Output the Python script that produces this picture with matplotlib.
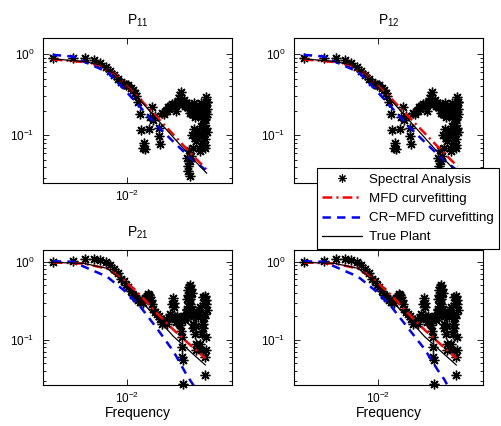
import numpy as np
import matplotlib
matplotlib.use("Agg")
import matplotlib.pyplot as plt
from matplotlib.lines import Line2D
from matplotlib.ticker import LogLocator, NullLocator, NullFormatter

plt.rcParams['font.family'] = ['Liberation Sans', 'DejaVu Sans']
plt.rcParams['mathtext.default'] = 'regular'
plt.rcParams['lines.scale_dashes'] = False

# ------------------------------------------------------------
# DATA
# ------------------------------------------------------------
DF = 0.0008  # frequency step of the spectral estimate

# spectral analysis points, top row (P11, P12): bin index, magnitude
top_bins = [1, 2, 3, 4, 5, 6, 7, 8, 9, 10, 11, 12, 13, 14, 15, 16,
            17, 18, 19, 20, 21, 22, 23, 26, 27, 29, 30, 32, 36, 37, 38,
            40, 44, 46, 48, 50, 52, 54, 57, 60, 63, 65, 67, 70, 72, 75, 76,
            78, 80, 84, 85, 89, 92, 93, 97, 100, 103, 107, 110, 112, 115,
            118, 120, 125, 128, 133, 135, 140, 145, 148, 152, 155, 161, 165,
            168, 172, 175, 178, 180, 183, 185, 187,
            182, 178, 165, 158, 145, 130, 133, 125, 117, 107, 105, 97, 105,
            93, 97, 112, 120, 100, 150, 160, 170, 175, 185, 172, 150, 140,
            135, 186, 176]
top_mag = [0.907, 0.907, 0.89, 0.85, 0.77, 0.70, 0.62, 0.55, 0.50, 0.455,
           0.43, 0.42, 0.41, 0.38, 0.36, 0.33,
           0.30, 0.256, 0.183, 0.115, 0.07, 0.081, 0.067, 0.119, 0.169, 0.22,
           0.154, 0.174, 0.124, 0.098, 0.077,
           0.19, 0.183, 0.20, 0.201, 0.22, 0.21, 0.232, 0.24, 0.244, 0.23,
           0.20, 0.24, 0.26, 0.29, 0.31, 0.34,
           0.268, 0.25, 0.24, 0.27, 0.232, 0.25, 0.22, 0.221, 0.24, 0.19,
           0.232, 0.183, 0.22, 0.20,
           0.25, 0.18, 0.166, 0.20, 0.19, 0.17, 0.21, 0.22, 0.183, 0.25,
           0.20, 0.158, 0.19,
           0.23, 0.16, 0.201, 0.26, 0.295, 0.256, 0.26, 0.21,
           0.166, 0.124, 0.103, 0.081, 0.064, 0.085, 0.113, 0.093, 0.07,
           0.055, 0.0477, 0.0413, 0.031,
           0.0525, 0.036, 0.10, 0.12, 0.065, 0.13, 0.12, 0.14, 0.09, 0.11,
           0.075, 0.10, 0.07,
           0.10, 0.18, 0.07]

# spectral analysis points, bottom row (P21, P22)
bot_bins = [1, 2, 3, 4, 5, 6, 7, 8, 9, 10, 11, 12, 13, 14, 15, 16, 17, 18,
            19, 20, 21, 22, 23, 24, 25, 26, 27, 28, 29, 30, 32, 34, 36, 38,
            40, 43, 45, 48, 51, 54, 57, 59, 60, 61, 63, 65, 66, 68, 70, 73,
            75, 77, 79, 79, 80, 80, 83, 83, 85, 86, 89, 90, 93, 95, 97, 100,
            105, 107, 104, 103, 108, 112, 117, 120, 125, 128, 130, 127, 125,
            133, 139, 143, 148, 165, 170, 175, 180, 183, 178, 175, 165, 158,
            148, 152, 160, 170, 177, 180, 172, 175, 98, 102, 110, 96, 106,
            99, 115]
bot_mag = [1.0, 1.02, 1.09, 1.09, 1.05, 0.99, 0.91, 0.81, 0.71, 0.61, 0.56,
           0.51, 0.47, 0.42, 0.38, 0.36, 0.34, 0.32,
           0.31, 0.305, 0.30, 0.32, 0.34, 0.37, 0.39, 0.38, 0.354, 0.32,
           0.29, 0.25, 0.23, 0.217, 0.20, 0.187,
           0.16, 0.178, 0.17, 0.16, 0.19, 0.217, 0.29, 0.34, 0.263, 0.30,
           0.196, 0.17, 0.19, 0.20, 0.178, 0.165,
           0.153, 0.13, 0.109, 0.081, 0.06, 0.19, 0.0546, 0.0268, 0.20, 0.19,
           0.178, 0.21, 0.239, 0.33, 0.43, 0.48,
           0.50, 0.45, 0.354, 0.29, 0.217, 0.25, 0.16, 0.20, 0.12, 0.089,
           0.073, 0.15, 0.217,
           0.22, 0.196, 0.23, 0.263, 0.354, 0.30, 0.37, 0.29, 0.24, 0.32,
           0.217, 0.16, 0.12,
           0.089, 0.073, 0.14, 0.19, 0.11, 0.075, 0.06, 0.035, 0.38, 0.30,
           0.40, 0.25, 0.33,
           0.20, 0.14]

# fitted / true curves, top row
top_freq = [0.0008, 0.0024, 0.00397, 0.005, 0.00659, 0.0088, 0.0155,
            0.0273, 0.048, 0.0844, 0.147]
top_true = [0.873, 0.808, 0.735, 0.637, 0.578, 0.434, 0.268, 0.158,
            0.0933, 0.0551, 0.034]
top_mfd = [0.86, 0.795, 0.725, 0.63, 0.575, 0.437, 0.276, 0.167, 0.101,
           0.0605, 0.0375]
top_mfd_12 = [0.86, 0.795, 0.725, 0.63, 0.575, 0.44, 0.282, 0.172, 0.106,
              0.065, 0.041]
top_cr_freq = [0.0008, 0.0016, 0.0023, 0.005, 0.0088, 0.0155, 0.0273,
               0.048, 0.0844, 0.14]
top_cr = [0.98, 0.933, 0.808, 0.606, 0.376, 0.222, 0.131, 0.0825, 0.0526,
          0.0375]

# fitted / true curves, bottom row
bot_freq = [0.0008, 0.00229, 0.00503, 0.00883, 0.0155, 0.0273, 0.048,
            0.0844, 0.1403]
bot_true = [0.985, 0.956, 0.826, 0.557, 0.324, 0.189, 0.11, 0.0706, 0.0475]
bot_mfd = [0.985, 0.95, 0.82, 0.585, 0.375, 0.219, 0.134, 0.0858, 0.058]
bot_cr_freq = [0.0008, 0.0016, 0.00229, 0.00503, 0.00883, 0.0155, 0.0273,
               0.048, 0.0747, 0.0935, 0.14]
bot_cr_21 = [1.02, 1.0, 0.87, 0.646, 0.435, 0.267, 0.14, 0.0706, 0.0354,
             0.0263, 0.013]
bot_cr_22 = [1.02, 1.0, 0.87, 0.646, 0.435, 0.267, 0.142, 0.076, 0.041,
             0.031, 0.016]

titles = ['$P_{11}$', '$P_{12}$', '$P_{21}$', '$P_{22}$']

# ------------------------------------------------------------
# FIGURE
# ------------------------------------------------------------
W, H = 501, 426
fig = plt.figure(figsize=(W / 100, H / 100), dpi=100)


def px_axes(left, top, right, bottom):
    return fig.add_axes([left / W, 1 - bottom / H, (right - left) / W,
                         (bottom - top) / H])


star = (8, 2, 0)
red_dd = (0, (7, 3, 1.5, 3))
blue_d = (0, (6, 4.5))

panels = [
    (px_axes(43, 38, 232, 183), top_bins, top_mag, top_freq, top_true,
     top_mfd, top_cr_freq, top_cr, (0.0257, 1.58)),
    (px_axes(294, 38, 483, 183), top_bins, top_mag, top_freq, top_true,
     top_mfd_12, top_cr_freq, top_cr, (0.0257, 1.58)),
    (px_axes(43, 250, 232, 385), bot_bins, bot_mag, bot_freq, bot_true,
     bot_mfd, bot_cr_freq, bot_cr_21, (0.0263, 1.42)),
    (px_axes(294, 250, 483, 385), bot_bins, bot_mag, bot_freq, bot_true,
     bot_mfd, bot_cr_freq, bot_cr_22, (0.0263, 1.42)),
]

for i, (ax, bins, mag, f, true, mfd, crf, cr, ylim) in enumerate(panels):
    ax.loglog(DF * np.array(bins), mag, linestyle='none', marker=star,
              ms=7, mew=1.0, color='black', clip_on=False)
    ax.loglog(f, mfd, color='red', lw=1.8, linestyle=red_dd)
    ax.loglog(crf, cr, color='blue', lw=1.8, linestyle=blue_d)
    ax.loglog(f, true, color='black', lw=0.9)

    ax.set_xlim(5.75e-4, 0.347)
    ax.set_ylim(*ylim)
    ax.set_xticks([0.01])
    ax.xaxis.set_minor_locator(NullLocator())
    ax.yaxis.set_major_locator(LogLocator(base=10))
    ax.yaxis.set_minor_locator(LogLocator(base=10, subs=np.arange(2, 10)))
    ax.yaxis.set_minor_formatter(NullFormatter())
    ax.tick_params(which='both', direction='in', top=True, right=True,
                   labelsize=8.5, width=0.6)
    ax.tick_params(which='major', length=4)
    ax.tick_params(which='minor', length=2.2)
    ax.tick_params(axis='x', pad=4)
    ax.tick_params(axis='y', pad=6)
    for sp in ax.spines.values():
        sp.set_linewidth(0.8)
    ax.set_title(titles[i], fontsize=10, pad=10)
    if i >= 2:
        ax.set_xlabel('Frequency', fontsize=10, labelpad=0)

handles = [
    Line2D([], [], linestyle='none', marker=star, ms=5.8, mew=0.8,
           color='black'),
    Line2D([], [], color='red', lw=1.8, linestyle=red_dd),
    Line2D([], [], color='blue', lw=1.8, linestyle=blue_d),
    Line2D([], [], color='black', lw=0.9),
]
labels = ['Spectral Analysis', 'MFD curvefitting', 'CR\u2212MFD curvefitting',
          'True Plant']
leg = fig.legend(handles, labels, loc='upper left',
                 bbox_to_anchor=(317 / W, 1 - 168 / H),
                 bbox_transform=fig.transFigure, fontsize=9.6,
                 frameon=True, fancybox=False, shadow=False,
                 edgecolor='black', framealpha=1, borderaxespad=0,
                 borderpad=0.4, labelspacing=0.52, handlelength=3.0,
                 handletextpad=0.5)
leg.get_frame().set_linewidth(0.8)

fig.savefig('out.png', dpi=100)
